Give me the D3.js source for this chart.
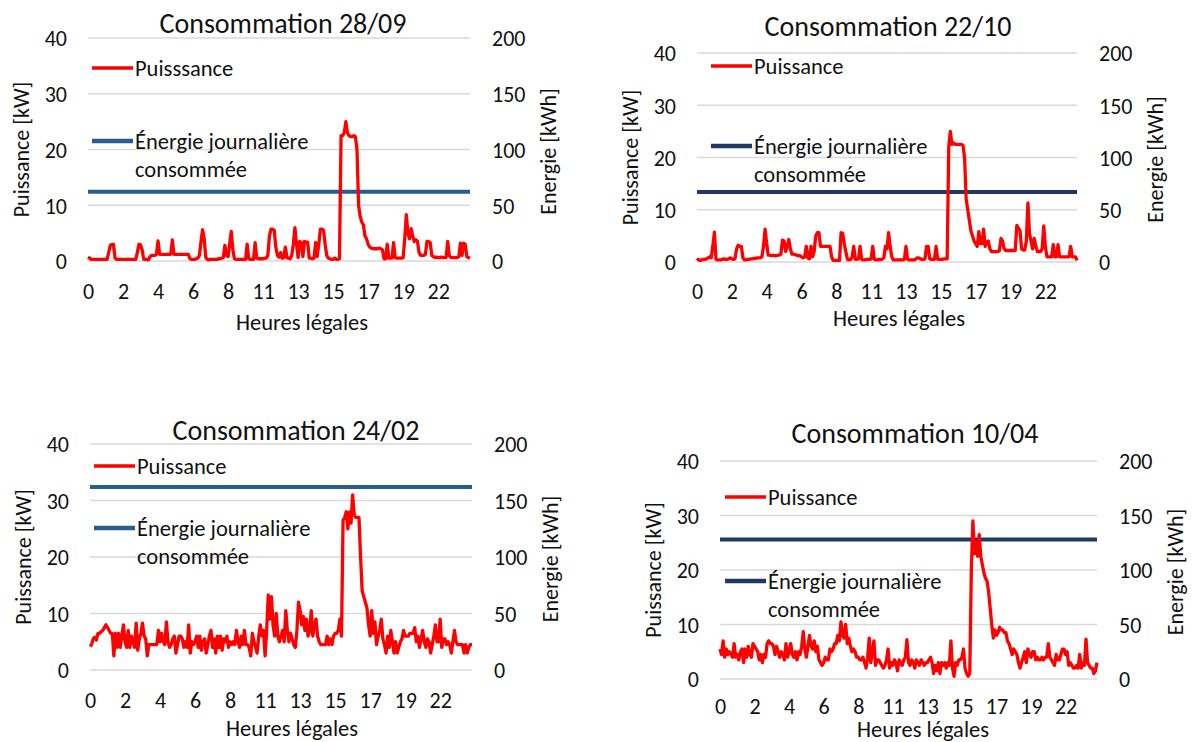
<!DOCTYPE html>
<html>
<head>
<meta charset="utf-8">
<script src="https://cdn.jsdelivr.net/npm/d3@7"></script>
<style>
  body { margin: 0; background: #fff; }
  svg text { font-family: Carlito, Calibri, Lato, sans-serif; fill: #111; }
</style>
</head>
<body>
<script>
var w = 1192,
    h = 742;

var titles = ["Consommation 28/09", "Consommation 22/10", "Consommation 24/02", "Consommation 10/04"];
var powerLegend = ["Puisssance", "Puissance", "Puissance", "Puissance"];
var energyLegend = ["Énergie journalière", "consommée"];
var energyKWh = [62, 67, 162, 128];
var powerTicks = [0, 10, 20, 30, 40];
var energyTicks = [0, 50, 100, 150, 200];
var tickHours = [0, 2.2, 4.4, 6.6, 8.8, 11, 13.2, 15.4, 17.6, 19.8, 22];
var tickLabels = ["0", "2", "4", "6", "8", "11", "13", "15", "17", "19", "22"];

// puissance en kW, un point toutes les 6 minutes (une ligne = une heure)
var kw0928 = [
  0.7,0.5,0.3,0.3,0.3,0.3,0.3,0.3,0.3,0.3,
  0.3,0.3,0.3,1.5,2.8,3.0,3.0,0.5,0.3,0.3,
  0.3,0.3,0.3,0.3,0.3,0.3,0.3,0.3,0.3,0.3,
  0.3,1.5,3.0,2.9,2.0,0.3,0.3,0.3,0.2,0.8,
  1.0,1.0,1.0,1.2,3.6,1.2,1.2,1.2,1.2,1.2,
  1.2,1.2,1.2,3.8,1.2,1.2,1.2,1.2,1.2,1.2,
  1.2,1.2,1.2,1.2,0.4,0.3,0.3,0.3,0.4,0.5,
  1.0,3.5,5.6,4.0,0.6,0.3,0.2,0.3,0.3,0.3,
  0.3,0.3,0.4,0.4,0.5,0.6,2.8,1.0,0.8,3.0,
  5.3,2.0,0.4,0.3,0.3,0.3,0.3,0.3,0.3,0.3,
  3.0,0.4,0.3,0.3,0.3,3.3,0.5,0.4,0.4,0.4,
  0.4,0.5,0.5,1.0,4.5,5.7,5.7,5.5,2.5,1.0,
  0.7,1.5,0.5,0.6,2.5,0.6,0.5,0.4,1.0,3.0,
  6.0,3.0,0.6,3.5,3.3,0.8,3.5,3.4,3.4,0.5,
  0.5,0.4,0.5,3.3,0.8,3.0,5.7,5.7,5.5,3.0,
  1.0,0.5,0.4,0.3,0.3,0.5,0.3,0.3,0.4,22.5,
  22.5,23.0,25.0,23.0,22.5,22.3,22.3,22.5,22.3,20.0,
  10.0,8.0,7.0,6.5,4.5,4.0,3.0,2.5,2.3,2.2,
  2.2,2.2,2.2,2.3,2.2,2.0,0.4,0.4,3.0,0.5,
  0.5,0.5,3.3,0.6,0.5,0.5,0.5,0.5,0.6,4.0,
  8.3,5.0,4.0,5.8,4.5,3.5,3.8,3.5,1.5,1.0,
  1.0,1.0,1.2,3.5,3.5,3.3,1.0,0.8,0.6,0.7,
  0.6,0.6,0.7,0.6,0.6,0.6,3.5,1.0,0.6,0.6,
  0.6,0.6,0.6,0.8,3.2,1.0,3.2,3.0,0.8,0.6,
  0.5
];

var kw2210 = [
  0.7,0.4,0.3,0.4,0.5,0.5,0.6,0.8,1.0,0.8,
  3.0,5.7,0.5,0.4,0.4,0.4,0.5,0.6,0.5,0.5,
  0.6,0.8,0.6,0.5,0.6,2.5,3.2,3.0,3.0,0.8,
  0.4,0.4,0.5,0.5,0.6,0.6,0.7,0.7,0.8,0.8,
  0.8,1.0,3.0,6.3,3.5,1.3,1.3,1.2,1.3,1.2,
  1.2,1.3,1.3,1.5,4.2,4.0,2.0,3.0,4.3,2.5,
  1.5,1.5,1.4,1.3,1.2,1.2,1.0,0.8,1.0,3.0,
  0.8,0.6,3.0,1.0,2.0,5.0,5.6,5.6,3.0,3.0,
  3.0,3.0,3.0,3.0,3.0,1.0,0.3,0.3,0.3,0.3,
  0.3,5.6,5.5,3.5,2.0,0.5,0.4,0.5,1.0,3.0,
  0.5,0.5,0.6,3.0,0.5,0.4,0.4,0.5,0.5,0.5,
  0.6,3.0,0.5,0.4,0.4,0.5,0.5,0.5,0.8,3.0,
  2.5,5.6,3.0,1.0,0.4,0.4,0.4,0.4,0.4,0.4,
  0.4,0.5,3.0,0.5,0.4,0.4,0.4,0.4,0.5,0.8,
  0.8,0.6,0.5,0.5,0.6,3.0,3.0,0.6,0.5,0.5,
  0.5,3.0,0.5,0.5,0.5,0.5,0.6,0.6,0.6,22.0,
  25.0,22.5,22.8,22.5,22.5,22.5,22.5,22.5,22.3,20.0,
  12.0,10.0,8.0,6.0,5.0,4.0,3.5,3.0,5.8,3.5,
  3.5,6.3,3.0,3.8,4.0,2.5,2.0,2.0,2.0,2.0,
  2.0,2.2,4.5,4.0,2.5,2.2,2.2,2.2,2.2,2.2,
  2.2,2.2,7.0,6.5,6.0,2.5,2.3,2.3,4.0,11.3,
  5.5,4.0,2.5,4.5,3.0,2.0,2.0,2.0,2.5,6.9,
  3.0,1.0,1.0,1.0,1.0,3.3,1.0,1.0,3.3,1.0,
  1.0,1.0,1.0,1.0,1.0,1.0,3.0,1.0,1.0,1.0,
  0.3
];

var kw2402 = [
  4.2,4.5,5.5,5.8,5.3,6.5,6.5,6.8,7.0,7.5,
  8.0,7.5,7.0,6.5,6.5,2.5,6.5,4.0,6.5,4.0,
  6.0,8.0,5.0,4.0,7.0,4.0,6.0,5.0,4.0,8.3,
  3.5,5.5,6.5,8.3,6.0,5.5,2.5,4.5,4.5,4.5,
  4.5,4.5,4.5,7.0,5.0,6.5,5.0,4.5,8.5,5.0,
  4.0,4.5,5.5,6.0,3.0,4.5,6.0,6.0,5.5,4.0,
  5.0,4.0,8.0,3.0,5.0,4.5,5.0,6.0,4.0,6.0,
  3.5,5.0,5.5,3.0,4.5,6.0,7.0,4.0,5.5,3.0,
  6.0,4.0,6.0,3.5,5.5,5.0,6.0,4.0,5.0,4.5,
  5.0,4.5,7.0,5.0,4.0,6.0,4.5,7.0,4.5,4.5,
  4.0,2.5,6.5,5.0,4.0,3.0,6.0,8.0,6.0,7.0,
  2.5,7.0,13.3,9.0,13.0,8.0,6.0,10.0,6.0,5.0,
  6.0,7.0,5.0,10.5,7.0,5.0,6.5,5.5,4.5,4.0,
  7.0,12.0,10.5,8.0,9.5,7.0,9.0,6.0,7.0,10.5,
  6.0,8.0,9.0,6.0,5.0,4.5,4.5,4.5,4.5,6.0,
  4.5,5.5,4.5,6.0,6.5,6.5,7.0,9.0,6.0,26.5,
  27.0,28.0,25.0,28.0,26.0,31.0,27.5,27.0,27.0,27.0,
  20.0,14.0,13.0,12.0,11.0,8.0,6.0,10.5,6.5,8.5,
  4.5,6.0,7.0,9.0,5.5,4.5,3.0,6.0,4.0,7.0,
  5.0,3.0,5.0,3.0,4.0,5.0,5.5,7.0,6.0,6.0,
  6.0,6.5,6.5,6.5,7.5,5.0,6.0,4.0,5.5,7.0,
  5.0,4.0,5.5,5.0,3.0,4.5,6.0,8.0,5.0,5.0,
  9.0,4.0,5.5,5.5,4.5,5.0,4.5,3.0,5.0,7.0,
  5.0,4.5,4.5,4.5,4.5,3.0,4.5,3.0,4.0,4.5,
  4.5
];

var kw1004 = [
  5.5,4.5,7.0,4.0,5.5,4.5,5.0,4.5,4.0,6.5,
  4.0,4.5,3.5,5.0,5.5,3.0,5.5,4.0,6.0,4.5,
  4.0,6.5,6.0,5.5,5.0,3.5,4.5,3.0,4.5,4.0,
  6.5,7.0,6.5,6.5,6.0,4.5,6.0,5.0,4.0,5.0,
  4.5,3.5,6.5,4.0,5.0,6.5,4.5,4.0,5.0,3.5,
  5.0,4.5,6.0,8.7,5.5,4.0,6.0,8.0,6.0,5.5,
  7.0,5.0,6.0,3.5,3.0,2.5,3.0,4.0,3.5,3.5,
  5.5,5.0,5.5,6.5,6.5,8.0,7.0,10.5,8.0,7.5,
  10.0,6.5,7.5,6.0,5.0,5.5,5.0,4.0,4.0,3.5,
  3.5,4.0,3.0,2.0,4.0,7.5,3.0,5.0,7.0,2.5,
  3.5,3.5,3.0,2.5,2.0,2.5,3.5,5.5,2.0,3.0,
  2.5,3.5,3.0,1.5,3.5,3.0,2.5,3.5,4.0,7.2,
  3.0,2.5,3.5,3.0,2.0,3.5,3.0,2.5,3.5,3.0,
  2.5,3.0,3.0,3.5,4.0,3.0,1.0,2.5,1.5,3.0,
  1.0,3.0,2.5,3.0,2.0,3.0,2.5,7.0,2.0,0.5,
  3.0,2.5,3.5,3.5,4.0,5.5,2.0,1.0,0.5,1.0,
  20.0,29.0,23.0,25.0,22.5,26.5,22.5,21.0,19.5,18.5,
  18.0,16.0,13.0,10.0,7.5,9.0,8.0,8.5,9.5,9.0,
  9.0,8.5,8.5,7.0,6.5,5.5,4.5,5.5,5.0,4.5,
  3.0,2.0,3.0,4.0,5.0,3.0,5.5,4.5,4.0,5.0,
  5.0,3.5,4.0,3.5,3.5,4.0,3.5,4.0,4.0,6.5,
  4.0,3.5,3.0,2.5,4.5,3.5,3.5,4.5,5.5,5.5,
  4.5,5.0,2.5,3.0,2.5,2.0,2.0,2.5,2.0,4.5,
  2.0,3.0,2.5,7.3,3.0,2.5,2.0,2.0,1.0,1.5,
  3.0
];

var series = [kw0928, kw2210, kw2402, kw1004];

// placement de chaque graphique dans l'image
var panels = [
  {left: 88,  right: 470,  top: 38,  bottom: 261, titleX: 283, titleY: 33,  xTickY: 38, xTitleX: 302, xTitleY: 330,
   legX: 92,  legRedY: 68,  legBlueY: 141, blue: "#255e91"},
  {left: 697, right: 1077, top: 53,  bottom: 262, titleX: 888, titleY: 36,  xTickY: 37, xTitleX: 899, xTitleY: 326,
   legX: 711, legRedY: 66,  legBlueY: 146, blue: "#203864"},
  {left: 90,  right: 472,  top: 444, bottom: 670, titleX: 296, titleY: 440, xTickY: 38, xTitleX: 292, xTitleY: 736,
   legX: 94,  legRedY: 466, legBlueY: 528, blue: "#255e91"},
  {left: 720, right: 1097, top: 461, bottom: 679, titleX: 915, titleY: 443, xTickY: 35, xTitleX: 923, xTitleY: 737,
   legX: 725, legRedY: 497, legBlueY: 581, blue: "#203864"}
];

var svg = d3.select("body").append("svg")
    .attr("width", w)
    .attr("height", h);

svg.append("rect").
    attr("width", w).
    attr("height", h).
    attr("fill", "#fff");

function drawPanel(p, i) {
  var data = series[i];
  var x = d3.scaleLinear().domain([0, 24]).range([p.left, p.right]);
  var y = d3.scaleLinear().domain([0, 40]).range([p.bottom, p.top]);
  var y2 = d3.scaleLinear().domain([0, 200]).range([p.bottom, p.top]);
  var g = svg.append("g");

  // grille
  g.selectAll("line.grid").data(powerTicks).enter().append("line").
    attr("class", "grid").
    attr("x1", p.left).
    attr("x2", p.right).
    attr("y1", function(d) { return y(d); }).
    attr("y2", function(d) { return y(d); }).
    attr("stroke", "#d9d9d9").
    attr("stroke-width", 1.5);

  // axes
  var left = g.append("g").
    attr("transform", "translate(" + p.left + ",0)").
    call(d3.axisLeft(y).tickValues(powerTicks).tickSize(0).tickPadding(21));
  var right = g.append("g").
    attr("transform", "translate(" + p.right + ",0)").
    call(d3.axisRight(y2).tickValues(energyTicks).tickSize(0).tickPadding(22));
  var bottom = g.append("g").
    attr("transform", "translate(0," + p.bottom + ")").
    call(d3.axisBottom(x).tickValues(tickHours).tickSize(0).
      tickFormat(function(d, k) { return tickLabels[k]; }));

  [left, right, bottom].forEach(function(a) {
    a.select(".domain").remove();
    a.attr("font-family", null).attr("font-size", null);
    a.selectAll("text").style("font-size", "22px").attr("fill", "#111");
  });
  left.selectAll("text").attr("dy", "0.36em");
  right.selectAll("text").attr("dy", "0.36em");
  bottom.selectAll("text").attr("y", p.xTickY).attr("dy", 0);

  // énergie journalière (axe de droite)
  g.append("line").
    attr("x1", p.left).
    attr("x2", p.right).
    attr("y1", y2(energyKWh[i])).
    attr("y2", y2(energyKWh[i])).
    attr("stroke", p.blue).
    attr("stroke-width", 4);

  // puissance
  var line = d3.line().
    x(function(d, k) { return x(k / 10); }).
    y(function(d) { return y(d); });

  g.append("path").
    datum(data).
    attr("d", line).
    attr("fill", "none").
    attr("stroke", "#ff0000").
    attr("stroke-width", 3.3).
    attr("stroke-linejoin", "round");

  // titres
  g.append("text").
    attr("x", p.titleX).
    attr("y", p.titleY).
    attr("text-anchor", "middle").
    style("font-size", "28px").
    text(titles[i]);

  g.append("text").
    attr("x", p.xTitleX).
    attr("y", p.xTitleY).
    attr("text-anchor", "middle").
    style("font-size", "22.5px").
    text("Heures légales");

  var midY = (p.top + p.bottom) / 2;
  g.append("text").
    attr("transform", "translate(" + (p.left - 67) + "," + midY + ") rotate(-90)").
    attr("text-anchor", "middle").
    attr("dy", "0.35em").
    style("font-size", "22px").
    text("Puissance [kW]");

  g.append("text").
    attr("transform", "translate(" + (p.right + 78) + "," + (midY + 2) + ") rotate(-90)").
    attr("text-anchor", "middle").
    attr("dy", "0.35em").
    style("font-size", "22px").
    text("Energie [kWh]");

  // légende
  g.append("line").
    attr("x1", p.legX).attr("x2", p.legX + 41).
    attr("y1", p.legRedY).attr("y2", p.legRedY).
    attr("stroke", "#ff0000").attr("stroke-width", 3.5);
  g.append("text").
    attr("x", p.legX + 43).
    attr("y", p.legRedY).
    attr("dy", "0.35em").
    style("font-size", "22.5px").
    text(powerLegend[i]);

  g.append("line").
    attr("x1", p.legX).attr("x2", p.legX + 41).
    attr("y1", p.legBlueY).attr("y2", p.legBlueY).
    attr("stroke", p.blue).attr("stroke-width", 4.5);
  energyLegend.forEach(function(t, k) {
    g.append("text").
      attr("x", p.legX + 43).
      attr("y", p.legBlueY + k * 28.5).
      attr("dy", "0.35em").
      style("font-size", "22.5px").
      text(t);
  });
}

panels.forEach(drawPanel);
</script>
</body>
</html>
